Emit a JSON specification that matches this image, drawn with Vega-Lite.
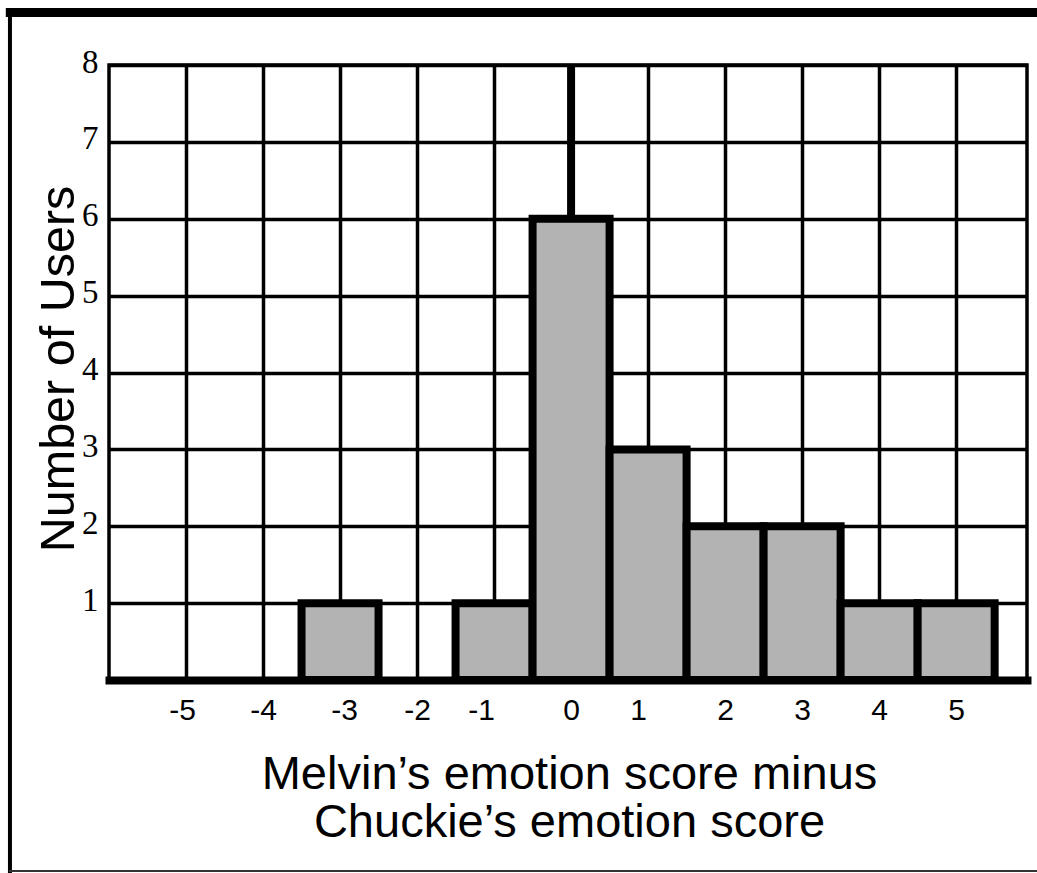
{
  "$schema": "https://vega.github.io/schema/vega-lite/v6.json",
  "width": 918,
  "height": 615,
  "autosize": {"type": "none"},
  "padding": {"left": 109, "top": 65, "right": 10, "bottom": 193},
  "background": "white",
  "config": {"view": {"stroke": "black", "strokeWidth": 3.5}},
  "layer": [
    {
      "data": {
        "values": [
          {"score": -3, "bin_start": -3.5, "bin_end": -2.5, "users": 1},
          {"score": -1, "bin_start": -1.5, "bin_end": -0.5, "users": 1},
          {"score": 0, "bin_start": -0.5, "bin_end": 0.5, "users": 6},
          {"score": 1, "bin_start": 0.5, "bin_end": 1.5, "users": 3},
          {"score": 2, "bin_start": 1.5, "bin_end": 2.5, "users": 2},
          {"score": 3, "bin_start": 2.5, "bin_end": 3.5, "users": 2},
          {"score": 4, "bin_start": 3.5, "bin_end": 4.5, "users": 1},
          {"score": 5, "bin_start": 4.5, "bin_end": 5.5, "users": 1}
        ]
      },
      "mark": {"type": "rect", "fill": "#b3b3b3", "stroke": "black", "strokeWidth": 8},
      "encoding": {
        "x": {
          "field": "bin_start",
          "type": "quantitative",
          "scale": {"domain": [-6, 5.92], "nice": false, "zero": false},
          "axis": {
            "values": [-5, -4, -3, -2, -1, 0, 1, 2, 3, 4, 5],
            "labelExpr": "datum.value + ''",
            "title": ["Melvin’s emotion score minus", "Chuckie’s emotion score"],
            "titleFont": "Liberation Sans",
            "titleFontSize": 47,
            "titleFontWeight": "normal",
            "titleColor": "black",
            "titleLineHeight": 48,
            "titleX": 460,
            "titleY": 108,
            "titleAlign": "center",
            "titleBaseline": "alphabetic",
            "labelFont": "Liberation Sans",
            "labelFontSize": 30,
            "labelColor": "black",
            "labelPadding": 15,
            "labelFlush": false,
            "labelOverlap": false,
            "labelOffset": {
              "condition": [
                {"test": "datum.value === -5", "value": -4},
                {"test": "datum.value === -3", "value": 4},
                {"test": "datum.value === -1", "value": -13},
                {"test": "datum.value === 1", "value": -10}
              ],
              "value": 0
            },
            "ticks": false,
            "domainColor": "black",
            "domainWidth": 8,
            "domainCap": "square",
            "grid": true,
            "gridColor": "black",
            "gridWidth": 3.5,
            "gridOpacity": 1
          }
        },
        "x2": {"field": "bin_end"},
        "y": {
          "field": "users",
          "type": "quantitative",
          "scale": {"domain": [0, 8], "nice": false},
          "axis": {
            "values": [1, 2, 3, 4, 5, 6, 7, 8],
            "labelExpr": "datum.value + ''",
            "title": "Number of Users",
            "titleFont": "Liberation Sans",
            "titleFontSize": 48.5,
            "titleFontWeight": "normal",
            "titleColor": "black",
            "titleAngle": 270,
            "titleX": -36,
            "titleY": 303.5,
            "titleAlign": "center",
            "titleBaseline": "alphabetic",
            "labelFont": "Liberation Serif",
            "labelFontSize": 33,
            "labelColor": "black",
            "labelPadding": 11,
            "labelOffset": -3,
            "labelFlush": false,
            "ticks": false,
            "domain": false,
            "grid": true,
            "gridColor": "black",
            "gridWidth": 3.5,
            "gridOpacity": 1
          }
        },
        "y2": {"datum": 0}
      }
    },
    {
      "data": {"values": [{}]},
      "mark": {"type": "rule", "color": "black", "strokeWidth": 8},
      "encoding": {
        "x": {"datum": 0, "type": "quantitative"},
        "y": {"datum": 6, "type": "quantitative"},
        "y2": {"datum": 8}
      }
    },
    {
      "data": {"values": [{}]},
      "mark": {"type": "rule", "color": "black", "strokeWidth": 9},
      "encoding": {
        "x": {"datum": -7.34, "type": "quantitative"},
        "x2": {"datum": 6.2},
        "y": {"datum": 8.683, "type": "quantitative"}
      }
    },
    {
      "data": {"values": [{}]},
      "mark": {"type": "rule", "color": "black", "strokeWidth": 4},
      "encoding": {
        "x": {"datum": -7.286, "type": "quantitative"},
        "y": {"datum": 8.74, "type": "quantitative"},
        "y2": {"datum": -2.53}
      }
    },
    {
      "data": {"values": [{}]},
      "mark": {"type": "rule", "color": "#333333", "strokeWidth": 2},
      "encoding": {
        "x": {"datum": -7.3, "type": "quantitative"},
        "x2": {"datum": 6.2},
        "y": {"datum": -2.485, "type": "quantitative"}
      }
    }
  ]
}
